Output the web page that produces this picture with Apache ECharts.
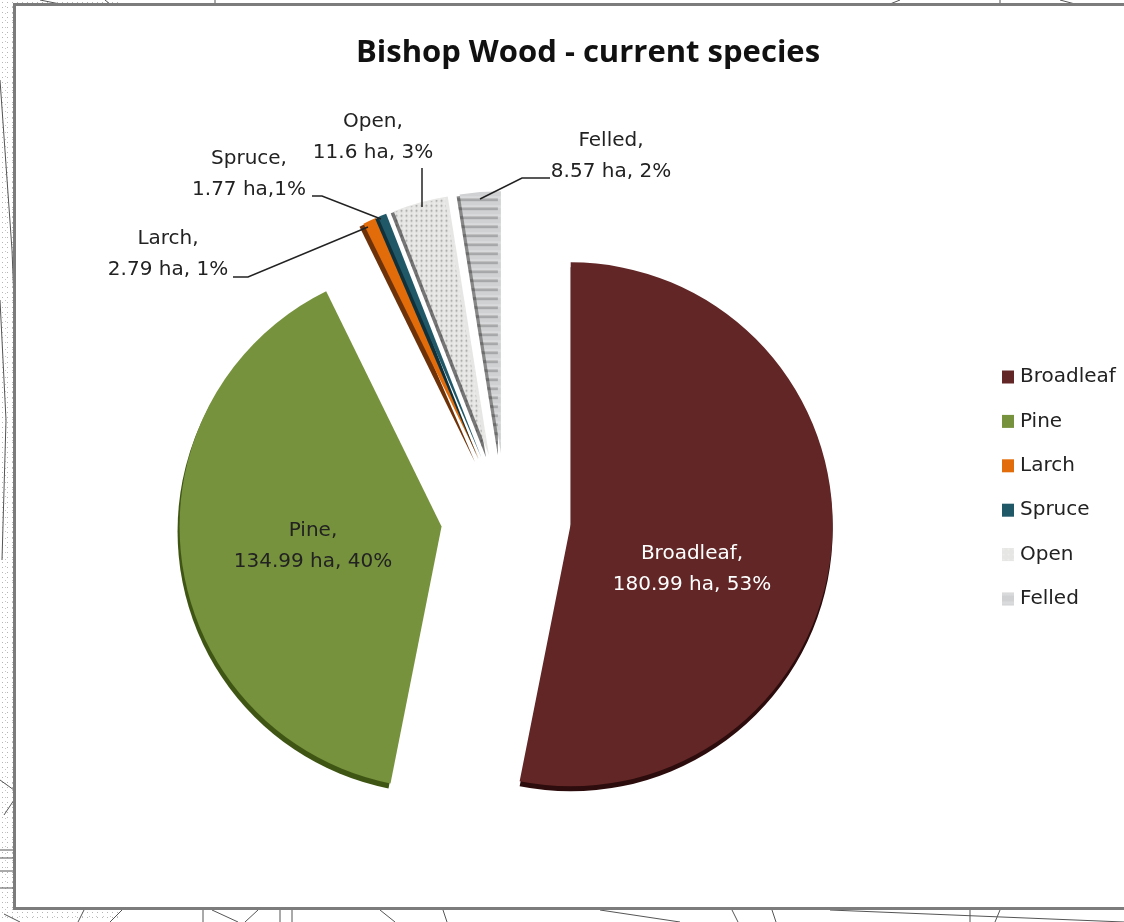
<!DOCTYPE html>
<html><head><meta charset="utf-8">
<style>
html,body{margin:0;padding:0;width:1124px;height:922px;overflow:hidden;background:#fff;}
#stipple{position:absolute;left:0;top:0;width:120px;height:922px;background-image:radial-gradient(#b4b4b4 0.6px,transparent 0.9px),radial-gradient(#c8c8c8 0.6px,transparent 0.9px);background-size:5px 5px,7px 7px;background-position:0 0,2px 3px;}
#c{width:1124px;height:922px;position:absolute;left:0;top:0;}
</style>
<script src="https://cdn.jsdelivr.net/npm/echarts@6/dist/echarts.min.js"></script>
</head><body><div id="stipple"></div><div id="c"></div>
<script>
const categories = ['Broadleaf','Pine','Larch','Spruce','Open','Felled'];
const hectares = [180.99,134.99,2.79,1.77,11.6,8.57];
const valueTexts = ['180.99 ha, 53%','134.99 ha, 40%','2.79 ha, 1%','1.77 ha,1%','11.6 ha, 3%','8.57 ha, 2%'];
const colors = ['#622626','#76923c','#e36c0a','#215868','#e6e6e4','#d0d1d3'];
const edgeColors = ['#2c0c0c','#3f5514','#6e3208','#10303a','#777777','#888888'];
const edgeOffsets = [[0,5],[-2,5],[-4,3],[-3,2],[-3,2],[-3,2]];
const labelColors = ['#ffffff','#222222','#222222','#222222','#222222','#222222'];
const labelSpots = [[692,569],[313,546],[168,254],[249,174],[373,137],[611,156]];
const leaderLines = [null,null,
  [[233,277],[248,277],[368,227]],
  [[312,196],[322,196],[381,219]],
  [[422,168],[422,207]],
  [[550,178],[522,178],[480,199]]];
const FONT = '"DejaVu Sans"';
const decals = [null,null,null,null,
  {symbol:'circle',symbolSize:0.7,dashArrayX:[3,2],dashArrayY:[3,2],color:'rgba(255,255,255,0.3)'},
  {symbol:'rect',dashArrayX:[1,0],dashArrayY:[3,6],color:'rgba(255,255,255,0.2)'}];

const mapLines = [
  [[0,80],[12,250],[14,300]],[[0,300],[6,420],[2,560]],[[0,850],[14,850]],[[0,858],[14,858]],[[0,871],[14,871]],[[0,888],[14,888]],
  [[0,780],[14,790]],[[4,815],[14,800]],[[4,914],[20,922]],[[110,922],[122,910]],[[78,922],[84,910]],
  [[203,910],[203,922]],[[212,910],[238,922]],[[258,910],[245,922]],[[280,910],[280,922]],[[292,910],[292,922]],
  [[380,910],[395,922]],[[443,910],[447,922]],[[600,910],[680,922]],[[732,910],[738,922]],[[772,910],[776,922]],
  [[830,910],[1124,922]],[[970,910],[970,922]],[[1000,910],[995,922]],[[40,0],[60,4]],[[105,0],[110,4]],[[215,0],[215,4]],
  [[900,0],[890,4]],[[1000,0],[1000,4]],[[1060,0],[1075,4]]
];

function sliceStyle(i){
  const s = {color:colors[i],shadowColor:edgeColors[i],shadowOffsetX:edgeOffsets[i][0],shadowOffsetY:edgeOffsets[i][1],shadowBlur:0,borderWidth:0};
  if(decals[i]) s.decal = decals[i];
  return s;
}

const chart = echarts.init(document.getElementById('c'));
chart.setOption({
  animation:false,
  backgroundColor:'transparent',
  graphic:{elements:[
    ...mapLines.map(pts=>({type:'polyline',silent:true,z:-3,shape:{points:pts},style:{stroke:'#555',lineWidth:1,fill:null}})),
    {type:'rect',silent:true,z:-2,shape:{x:14.5,y:4.5,width:1120,height:904},style:{fill:'#fff',stroke:'#7c7c7c',lineWidth:3}},
    ...leaderLines.filter(Boolean).map(pts=>({type:'polyline',silent:true,z:20,shape:{points:pts},style:{stroke:'#222',lineWidth:1.5,fill:null}})),
    ...categories.map((name,i)=>({type:'text',silent:true,z:21,x:labelSpots[i][0],y:labelSpots[i][1],
      style:{text:name+',\n'+valueTexts[i],fill:labelColors[i],font:'20px '+FONT,lineHeight:31,align:'center',verticalAlign:'middle'}}))
  ]},
  title:{text:'Bishop Wood - current species',left:583,top:33,textAlign:'center',
    textStyle:{fontFamily:'"Open Sans"',fontSize:31,fontWeight:'bold',color:'#111'}},
  legend:{orient:'vertical',left:997,top:358,itemWidth:12,itemHeight:13,itemGap:16.4,icon:'rect',
    data:categories,textStyle:{fontFamily:FONT,fontSize:20,color:'#222',padding:[0,0,0,1],lineHeight:28}},
  series:[{
    type:'pie',
    center:[506,518],
    radius:[0,262],
    startAngle:90,
    clockwise:true,
    selectedMode:'multiple',
    selectedOffset:65,
    percentPrecision:0,
    emphasis:{disabled:true},
    label:{show:false},
    labelLine:{show:false},
    data:categories.map((name,i)=>({
      name,value:hectares[i],selected:true,
      itemStyle:sliceStyle(i),
      select:{itemStyle:sliceStyle(i)}
    }))
  }]
});
</script></body></html>
